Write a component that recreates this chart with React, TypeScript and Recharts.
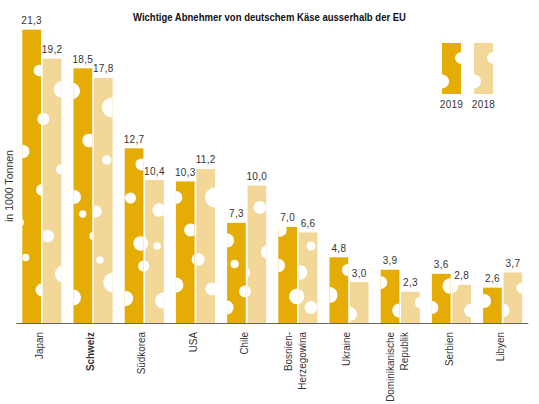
import { BarChart, Bar, XAxis, YAxis, LabelList, Legend } from 'recharts'

const countries = ['Japan', 'Schweiz', 'Südkorea', 'USA', 'Chile', 'Bosnien-|Herzegowina', 'Ukraine', 'Dominikanische|Republik', 'Serbien', 'Libyen']
const values2019 = [21.3, 18.5, 12.7, 10.3, 7.3, 7.0, 4.8, 3.9, 3.6, 2.6]
const values2018 = [19.2, 17.8, 10.4, 11.2, 10.0, 6.6, 3.0, 2.3, 2.8, 3.7]

const ORANGE = '#E6AC06'
const SAND = '#F3D798'
const FONT = '"Liberation Sans", sans-serif'

// cheese holes: [category, offset from the bar's left edge, rise above its foot, radius]
type Hole = [number, number, number, number]
const holes2019: Hole[] = [
  [0, 17, 253, 5.7], [0, 0.4, 172, 6.7], [0, 21, 204.5, 6], [0, 19.4, 133.5, 5.7], [0, -2.3, 101, 4], [0, 3.4, 66, 3.7], [0, 19.7, 33.5, 6.5],
  [1, -1.8, 232.5, 8.3], [1, 15.5, 183, 6.7], [1, 0.5, 126.5, 7], [1, 9.2, 109.5, 3.7], [1, 19.8, 87.5, 4], [1, -0.5, 26, 8],
  [2, 16.8, 159, 6], [2, 5.8, 125.5, 5.5], [2, 16, 80, 7.3], [2, 1, 25, 7.5], [2, 19, 57.5, 5.5],
  [3, 0, 126, 6.5], [3, 14.7, 93.5, 6.5], [3, 22, 64, 6.3], [3, 0, 38.5, 7.5],
  [4, 0, 83, 7], [4, 7.5, 59.5, 4.3], [4, -0.5, 16, 7], [4, 18, 32, 6],
  [5, 1.7, 93.5, 6.7], [5, 0, 58, 6.7], [5, 18.4, 27, 7.7],
  [6, 18.4, 53.5, 6], [6, 0, 28.5, 8],
  [7, 0, 41, 6.5], [7, 18.5, 13, 7],
  [8, 0, 16, 6.5], [8, 18.3, 37.5, 7.7],
  [9, 1, 22.5, 7],
]
const holes2018: Hole[] = [
  [0, 0.6, 204.5, 6], [0, 19.6, 234, 8.5], [0, 18.3, 154, 5], [0, 5, 87.5, 6.3], [0, 21.3, 49.5, 9],
  [1, 18, 216, 10], [1, 12.8, 163.5, 4.7], [1, 1.8, 112, 6], [1, 6, 63.5, 3.7], [1, 19.4, 41, 10],
  [2, -4.3, 80, 7.3], [2, -1.3, 57.5, 5.5], [2, 14, 113.5, 6.7], [2, 12, 77.5, 3.8], [2, 18, 23, 8],
  [3, 2, 64, 6.3], [3, 18.6, 126, 10], [3, 15.6, 34.5, 6.5],
  [4, 12.4, 116, 6.5], [4, 20.4, 71.5, 7], [4, -2.6, 51, 5.3], [4, -2.6, 32, 6],
  [5, 12.3, 77.5, 4.5], [5, 1.3, 51, 7.3], [5, -2, 27, 7.7], [5, 12.3, 16, 6.5],
  [6, 0, 9.5, 7],
  [7, 19.8, 21, 6],
  [8, -2, 37.5, 7.7], [8, 18.6, 13, 6.7],
  [9, -1, 13, 7], [9, 18.4, 35.5, 5.5],
]
const legendHoles: Hole[] = [[0, 18.7, 36, 5.7], [0, 0, 12.6, 7]]

const chartData = countries.map((name, i) => ({
  name,
  y2019: values2019[i],
  y2018: values2018[i],
}))

function formatValue(value: number) {
  return value.toFixed(1).replace('.', ',')
}

function CheeseBlock({ id, x, y, width, height, fill, holes }: any) {
  return (
    <g>
      <clipPath id={id}>
        <rect x={x} y={y} width={width} height={height} />
      </clipPath>
      <rect x={x} y={y} width={width} height={height} fill={fill} />
      <g clipPath={`url(#${id})`}>
        {holes.map((h: Hole, i: number) => (
          <circle key={i} cx={x + h[1]} cy={y + height - h[2]} r={h[3]} fill="#fff" />
        ))}
      </g>
    </g>
  )
}

function cheeseShape(prefix: string, fill: string, holes: Hole[]) {
  return (props: any) => (
    <CheeseBlock
      id={`${prefix}-${props.index}`}
      x={props.x}
      y={props.y}
      width={props.width}
      height={props.height}
      fill={fill}
      holes={holes.filter((h) => h[0] === props.index)}
    />
  )
}

function CountryTick({ x, y, payload }: any) {
  const lines = String(payload.value).split('|')
  const bold = payload.value === 'Schweiz'
  return (
    <g>
      {lines.map((line, i) => {
        const tx = x + 1 + (i - (lines.length - 1) / 2) * 14
        const ty = y + 0.5
        return (
          <text
            key={line}
            transform={`translate(${tx} ${ty}) rotate(-90) scale(0.9 1)`}
            textAnchor="end"
            fontFamily={FONT}
            fontSize={11}
            fontWeight={bold ? 700 : 400}
            fill="#333"
          >
            {line}
          </text>
        )
      })}
    </g>
  )
}

function CheeseLegend({ payload }: any) {
  return (
    <svg width={60} height={70} style={{ display: 'block', overflow: 'visible' }}>
      {(payload || []).map((item: any, i: number) => (
        <g key={item.value}>
          <CheeseBlock id={`legend-${i}`} x={2 + i * 32} y={0} width={19} height={51} fill={item.color} holes={legendHoles} />
          <text x={11.5 + i * 32} y={65} textAnchor="middle" fontFamily={FONT} fontSize={10} letterSpacing={0.3} fill="#333">
            {item.value}
          </text>
        </g>
      ))}
    </svg>
  )
}

export default function App() {
  return (
    <div style={{ position: 'absolute', left: 0, top: 0, width: 539, height: 404 }}>
      <BarChart
        width={539}
        height={404}
        data={chartData}
        margin={{ top: 20, right: 10.7, bottom: 0, left: 16.3 }}
        barSize={18.7}
        barGap={1.7}
      >
        <XAxis
          dataKey="name"
          interval={0}
          height={80.5}
          axisLine={{ stroke: '#666', strokeWidth: 1 }}
          tickLine={false}
          tick={<CountryTick />}
        />
        <YAxis hide domain={[0, 22]} />
        <Legend
          layout="vertical"
          align="center"
          verticalAlign="middle"
          itemSorter={null}
          content={<CheeseLegend />}
          wrapperStyle={{ left: 440, top: 43, width: 60 }}
        />
        <Bar dataKey="y2019" name="2019" fill={ORANGE} isAnimationActive={false} shape={cheeseShape('a', ORANGE, holes2019)}>
          <LabelList dataKey="y2019" position="top" offset={5.5} formatter={formatValue} fontFamily={FONT} fontSize={10} letterSpacing={0.3} fill="#333" />
        </Bar>
        <Bar dataKey="y2018" name="2018" fill={SAND} isAnimationActive={false} shape={cheeseShape('b', SAND, holes2018)}>
          <LabelList dataKey="y2018" position="top" offset={5.5} formatter={formatValue} fontFamily={FONT} fontSize={10} letterSpacing={0.3} fill="#333" />
        </Bar>
        <text x={269.5} y={20.5} textAnchor="middle" fontFamily={FONT} fontSize={11} fontWeight={700} fill="#111" textLength={273} lengthAdjust="spacingAndGlyphs">
          Wichtige Abnehmer von deutschem Käse ausserhalb der EU
        </text>
        <text x={13} y={186} textAnchor="middle" transform="rotate(-90 13 186)" fontFamily={FONT} fontSize={11} fill="#333" textLength={72} lengthAdjust="spacingAndGlyphs">
          in 1000 Tonnen
        </text>
      </BarChart>
    </div>
  )
}
